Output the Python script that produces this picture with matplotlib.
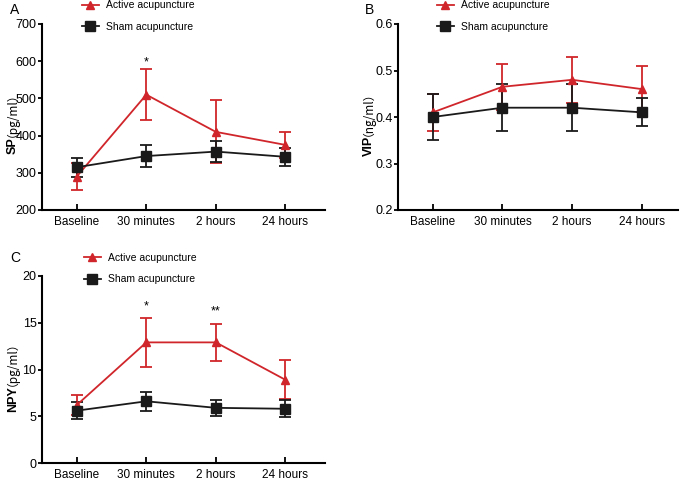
import matplotlib
matplotlib.use("Agg")
import matplotlib.pyplot as plt
from matplotlib.lines import Line2D
from matplotlib.transforms import offset_copy

plt.rcParams["font.family"] = ["Liberation Sans", "Noto Sans CJK SC"]
plt.rcParams["font.size"] = 9

# ---------- DATA ----------
times = ["Baseline", "30 minutes", "2 hours", "24 hours"]

sp_active = [290, 510, 410, 375]
sp_active_err = [35, 68, 85, 35]
sp_sham = [315, 345, 357, 343]
sp_sham_err = [25, 30, 28, 24]

vip_active = [0.41, 0.465, 0.48, 0.46]
vip_active_err = [0.04, 0.05, 0.05, 0.05]
vip_sham = [0.40, 0.42, 0.42, 0.41]
vip_sham_err = [0.05, 0.05, 0.05, 0.03]

npy_active = [6.2, 12.9, 12.9, 8.9]
npy_active_err = [1.1, 2.6, 2.0, 2.1]
npy_sham = [5.6, 6.6, 5.9, 5.8]
npy_sham_err = [0.9, 1.0, 0.85, 0.9]

RED = "#d0262b"
BLACK = "#1a1a1a"

fig = plt.figure(figsize=(6.85, 4.8), dpi=100)

W, H = 685, 480


def px_axes(x0, y0, x1, y1):
    return fig.add_axes([x0 / W, 1 - y1 / H, (x1 - x0) / W, (y1 - y0) / H])


def panel(ax, active, active_err, sham, sham_err, ylim, yticks, name, unit, split, xmax):
    x = range(len(times))
    ax.errorbar(x, active, yerr=active_err, color=RED, marker="^", markersize=6,
                linewidth=1.3, capsize=4, elinewidth=1.3, capthick=1.3)
    ax.errorbar(x, sham, yerr=sham_err, color=BLACK, marker="s", markersize=7,
                linewidth=1.3, capsize=4, elinewidth=1.3, capthick=1.3)
    ax.set_xlim(-0.5, xmax)
    ax.set_ylim(*ylim)
    ax.set_yticks(yticks)
    ax.set_xticks(list(x))
    ax.set_xticklabels(times)
    for s in ["top", "right"]:
        ax.spines[s].set_visible(False)
    for s in ["left", "bottom"]:
        ax.spines[s].set_linewidth(1.5)
    ax.tick_params(axis="y", direction="out", length=3, width=1.3, labelsize=9, pad=1)
    ax.tick_params(axis="x", direction="in", length=4, width=1.3, labelsize=8.5, pad=4)
    ax.patch.set_alpha(0)
    # y label: bold name + regular unit, on the same column
    tr = offset_copy(ax.transAxes, fig=fig, x=-29, y=0, units="dots")
    ax.text(0, split, name, transform=tr, rotation=90, rotation_mode="anchor",
            ha="right", va="center", fontsize=9, fontweight="bold")
    tr2 = offset_copy(ax.transAxes, fig=fig, x=-35.5, y=0, units="dots")
    ax.text(0, split, unit, transform=tr2, rotation=90, rotation_mode="anchor",
            ha="left", va="center", fontsize=8.5, family="Noto Sans CJK SC")


def legend(x, y):
    handles = [
        Line2D([], [], color=RED, marker="^", markersize=6, linewidth=1.3),
        Line2D([], [], color=BLACK, marker="s", markersize=7, linewidth=1.3),
    ]
    fig.legend(handles, ["Active acupuncture", "Sham acupuncture"],
               loc="center left", bbox_to_anchor=(x / W, 1 - y / H),
               frameon=False, fontsize=7.5, handlelength=1.6, handletextpad=0.7,
               labelspacing=1.1, borderaxespad=0, borderpad=0)


# ---------- PANEL A ----------
axA = px_axes(42, 24, 325, 210)
panel(axA, sp_active, sp_active_err, sp_sham, sp_sham_err,
      (200, 700), [200, 300, 400, 500, 600, 700],
      "SP", "（pg/ml）", 0.39, 3.57)
axA.text(1, 596, "*", ha="center", va="center", fontsize=9)
legend(82, 16)
fig.text(10 / W, 1 - 10 / H, "A", fontsize=10, va="center")

# ---------- PANEL B ----------
axB = px_axes(398, 24, 678, 210)
panel(axB, vip_active, vip_active_err, vip_sham, vip_sham_err,
      (0.2, 0.6), [0.2, 0.3, 0.4, 0.5, 0.6],
      "VIP", "（ng/ml）", 0.40, 3.52)
legend(437, 16)
fig.text(365 / W, 1 - 10 / H, "B", fontsize=10, va="center")

# ---------- PANEL C ----------
axC = px_axes(42, 276, 325, 463)
panel(axC, npy_active, npy_active_err, npy_sham, npy_sham_err,
      (0, 20), [0, 5, 10, 15, 20],
      "NPY", "（pg/ml）", 0.41, 3.57)
axC.text(1, 16.7, "*", ha="center", va="center", fontsize=9)
axC.text(2, 16.2, "**", ha="center", va="center", fontsize=9)
legend(84, 268.5)
fig.text(10 / W, 1 - 258 / H, "C", fontsize=10, va="center")

fig.savefig("out.png", dpi=100)
